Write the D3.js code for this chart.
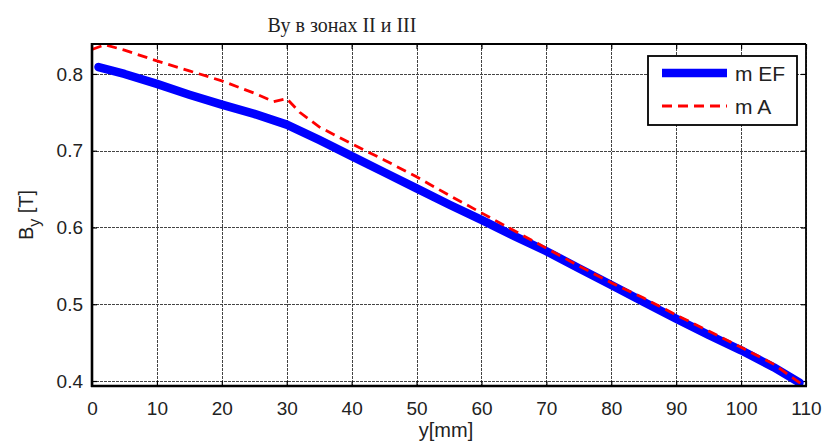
<!DOCTYPE html>
<html>
<head>
<meta charset="utf-8">
<script src="https://cdn.jsdelivr.net/npm/d3@7"></script>
<style>
  body { margin: 0; background: #fff; }
  text { font-family: "Liberation Sans", Arial, sans-serif; fill: #222; }
</style>
</head>
<body>
<div id="chart"></div>
<script>
///////////////////// Data ////////////////////////
// m EF (thick blue)
var efX = [1, 5, 10, 15, 20, 25, 30, 35, 40, 45, 50, 55, 60, 65, 70, 75, 80, 85, 90, 95, 100, 105, 109];
var efY = [0.809, 0.800, 0.787, 0.773, 0.760, 0.748, 0.734, 0.714, 0.693, 0.672, 0.651, 0.630, 0.610, 0.589, 0.569, 0.547, 0.525, 0.503, 0.481, 0.460, 0.440, 0.418, 0.398];
// m A (red dashed)
var aX = [0, 2, 5, 10, 15, 20, 25, 28, 30, 32, 35, 40, 45, 50, 55, 60, 65, 70, 75, 80, 85, 90, 95, 100, 105, 109.5];
var aY = [0.832, 0.838, 0.831, 0.817, 0.804, 0.791, 0.775, 0.764, 0.768, 0.750, 0.731, 0.709, 0.688, 0.666, 0.642, 0.619, 0.596, 0.573, 0.550, 0.528, 0.508, 0.486, 0.465, 0.444, 0.422, 0.395];

var xTicks = [0, 10, 20, 30, 40, 50, 60, 70, 80, 90, 100, 110];
var yTicks = [0.4, 0.5, 0.6, 0.7, 0.8];
var seriesNames = ["m EF", "m A"];
var titleText = "Ву в зонах II и III";
//////////////////////////////////////////////////

var width = 827, height = 443;
var margin = {left: 92, top: 44, right: 21, bottom: 57};
var pw = width - margin.left - margin.right;
var ph = height - margin.top - margin.bottom;

var svg = d3.select("#chart").append("svg")
    .attr("width", width).attr("height", height);
svg.append("rect").attr("width", width).attr("height", height).attr("fill", "#fff");

var x = d3.scaleLinear().domain([0, 110]).range([0, pw]);
var y = d3.scaleLinear().domain([0.3935, 0.839]).range([ph, 0]);

var g = svg.append("g").attr("transform", "translate(" + margin.left + "," + margin.top + ")");

// grid (snap to pixel centres so the dotted lines stay dark)
var snap = function(v) { return Math.round(v) + 0.5; };
g.append("g").selectAll("line").data(xTicks).enter().append("line")
    .attr("x1", d => snap(x(d))).attr("x2", d => snap(x(d))).attr("y1", 0).attr("y2", ph)
    .attr("stroke", "#444").attr("stroke-width", 1).attr("stroke-dasharray", "3,1");
g.append("g").selectAll("line").data(yTicks).enter().append("line")
    .attr("x1", 0).attr("x2", pw).attr("y1", d => snap(y(d))).attr("y2", d => snap(y(d)))
    .attr("stroke", "#444").attr("stroke-width", 1).attr("stroke-dasharray", "3,1");

// axes (ticks inside, MATLAB style)
var xAxis = g.append("g").attr("transform", "translate(0," + ph + ")")
    .call(d3.axisBottom(x).tickValues(xTicks).tickSize(-5).tickPadding(16).tickFormat(d3.format("d")));
var yAxis = g.append("g")
    .call(d3.axisLeft(y).tickValues(yTicks).tickSize(-5).tickPadding(9).tickFormat(d3.format(".1f")));
g.append("g").call(d3.axisTop(x).tickValues(xTicks).tickSize(-5).tickFormat(""));
g.append("g").attr("transform", "translate(" + pw + ",0)")
    .call(d3.axisRight(y).tickValues(yTicks).tickSize(-5).tickFormat(""));
g.selectAll(".domain").remove();
g.selectAll(".tick line").attr("stroke", "#000").attr("stroke-width", 1.2);
xAxis.selectAll("text").attr("font-size", 19).attr("fill", "#222");
yAxis.selectAll("text").attr("font-size", 19).attr("fill", "#222");

// clip
svg.append("clipPath").attr("id", "clip").append("rect").attr("width", pw).attr("height", ph);
var plot = g.append("g").attr("clip-path", "url(#clip)");

var line = d3.line().x(d => x(d[0])).y(d => y(d[1]));

plot.append("path").datum(d3.zip(efX, efY))
    .attr("d", line).attr("fill", "none").attr("stroke", "#0000ff")
    .attr("stroke-width", 8.5).attr("stroke-linejoin", "round").attr("stroke-linecap", "round");
plot.append("path").datum(d3.zip(aX, aY))
    .attr("d", line).attr("fill", "none").attr("stroke", "#ff0000")
    .attr("stroke-width", 2.8).attr("stroke-dasharray", "10,6");

// box
g.append("line").attr("x1", 0).attr("x2", pw).attr("y1", 0).attr("y2", 0).attr("stroke", "#000").attr("stroke-width", 1.8);
g.append("line").attr("x1", pw).attr("x2", pw).attr("y1", 0).attr("y2", ph).attr("stroke", "#000").attr("stroke-width", 1.8);
g.append("line").attr("x1", 0).attr("x2", 0).attr("y1", -1).attr("y2", ph + 1).attr("stroke", "#000").attr("stroke-width", 2.6);
g.append("line").attr("x1", -1).attr("x2", pw + 1).attr("y1", ph).attr("y2", ph).attr("stroke", "#000").attr("stroke-width", 2.6);

// legend
var lg = svg.append("g").attr("transform", "translate(648,56)");
lg.append("rect").attr("width", 149).attr("height", 69).attr("fill", "#fff")
    .attr("stroke", "#000").attr("stroke-width", 1.8);
var legStyles = [{c: "#0000ff", w: 8.5, dash: null}, {c: "#ff0000", w: 2.8, dash: "10,6"}];
seriesNames.forEach(function(name, i) {
    var ly = 17 + i * 33;
    lg.append("line").attr("x1", 14).attr("x2", 79).attr("y1", ly).attr("y2", ly)
        .attr("stroke", legStyles[i].c).attr("stroke-width", legStyles[i].w)
        .attr("stroke-dasharray", legStyles[i].dash);
    lg.append("text").attr("x", 87).attr("y", ly + 8).attr("font-size", 21).text(name);
});

// title and labels
svg.append("text").attr("x", 342).attr("y", 32).attr("text-anchor", "middle")
    .style("font-family", "'Liberation Serif', 'Times New Roman', serif")
    .attr("font-size", 20).attr("fill", "#111").text(titleText);

svg.append("text").attr("x", 446).attr("y", 437).attr("text-anchor", "middle")
    .attr("font-size", 20).text("y[mm]");

var yl = svg.append("text").attr("transform", "translate(33,215) rotate(-90)")
    .attr("text-anchor", "middle").attr("font-size", 20);
yl.append("tspan").text("B");
yl.append("tspan").attr("dy", 7).attr("font-size", 16).text("y");
yl.append("tspan").attr("dy", -7).text(" [T]");
</script>
</body>
</html>
